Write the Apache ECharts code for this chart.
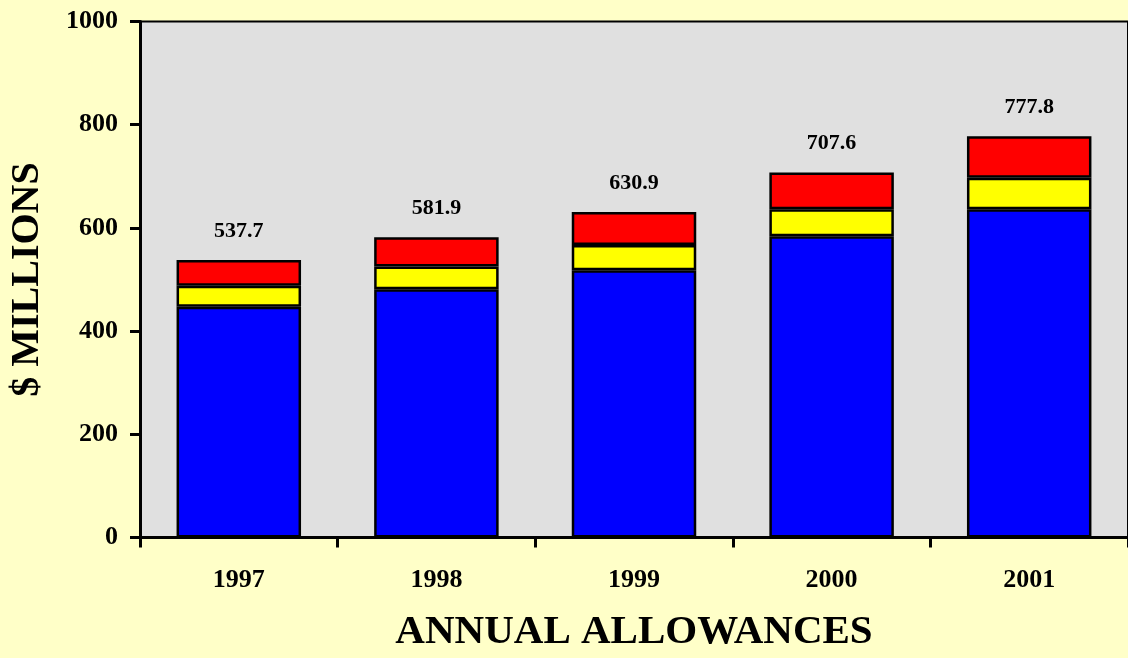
<!DOCTYPE html>
<html>
<head>
<meta charset="utf-8">
<script src="https://cdn.jsdelivr.net/npm/echarts@6/dist/echarts.min.js"></script>
<style>
html,body{margin:0;padding:0;background:#FFFFC8;}
#chart{width:1128px;height:658px;}
</style>
</head>
<body>
<div id="chart"></div>
<script>
var years = ['1997', '1998', '1999', '2000', '2001'];
var blueValues = [447, 481, 518, 584, 636];
var yellowValues = [41, 44, 49, 52, 61];
var redValues = [49.7, 56.9, 63.9, 71.6, 80.8];
var totalLabels = ['537.7', '581.9', '630.9', '707.6', '777.8'];
var yTicks = [0, 200, 400, 600, 800, 1000];

var font = '"Liberation Serif", "Times New Roman", serif';
var chart = echarts.init(document.getElementById('chart'), null, {renderer: 'canvas'});

function seg(name, data, color, withLabel) {
  var s = {
    name: name,
    type: 'bar',
    stack: 'total',
    barWidth: '63%',
    data: data,
    itemStyle: {color: color, borderColor: '#000', borderWidth: 2.5},
    emphasis: {disabled: true}
  };
  if (withLabel) {
    s.label = {
      show: true,
      position: 'top',
      distance: 18,
      fontFamily: font,
      fontWeight: 'bold',
      fontSize: 22,
      color: '#000',
      formatter: function (p) { return totalLabels[p.dataIndex]; }
    };
  }
  return s;
}

chart.setOption({
  backgroundColor: '#FFFFC8',
  animation: false,
  grid: {
    left: 140, right: 0, top: 21.5, bottom: 120.5,
    show: true, backgroundColor: '#E0E0E0', borderColor: '#000', borderWidth: 2
  },
  xAxis: {
    type: 'category',
    data: years,
    name: 'ANNUAL ALLOWANCES',
    nameLocation: 'middle',
    nameGap: 74,
    nameTextStyle: {fontFamily: font, fontWeight: 'bold', fontSize: 41, color: '#000'},
    axisLine: {lineStyle: {color: '#000', width: 3}},
    axisTick: {show: true, inside: false, length: 10, alignWithLabel: false, lineStyle: {color: '#000', width: 3}},
    axisLabel: {fontFamily: font, fontWeight: 'bold', fontSize: 26, color: '#000', margin: 30},
    splitLine: {show: false}
  },
  yAxis: {
    type: 'value',
    min: yTicks[0],
    max: yTicks[yTicks.length - 1],
    interval: 200,
    name: '$ MILLIONS',
    nameLocation: 'middle',
    nameRotate: 90,
    nameGap: 92,
    nameTextStyle: {fontFamily: font, fontWeight: 'bold', fontSize: 40, color: '#000'},
    axisLine: {show: true, lineStyle: {color: '#000', width: 3}},
    axisTick: {show: true, inside: false, length: 10, lineStyle: {color: '#000', width: 3}},
    axisLabel: {fontFamily: font, fontWeight: 'bold', fontSize: 26, color: '#000', margin: 22,
      formatter: function (v) { return String(v); }},
    splitLine: {show: false}
  },
  series: [
    seg('Blue', blueValues, '#0000FF', false),
    seg('Yellow', yellowValues, '#FFFF00', false),
    seg('Red', redValues, '#FF0000', true)
  ]
});
</script>
</body>
</html>
